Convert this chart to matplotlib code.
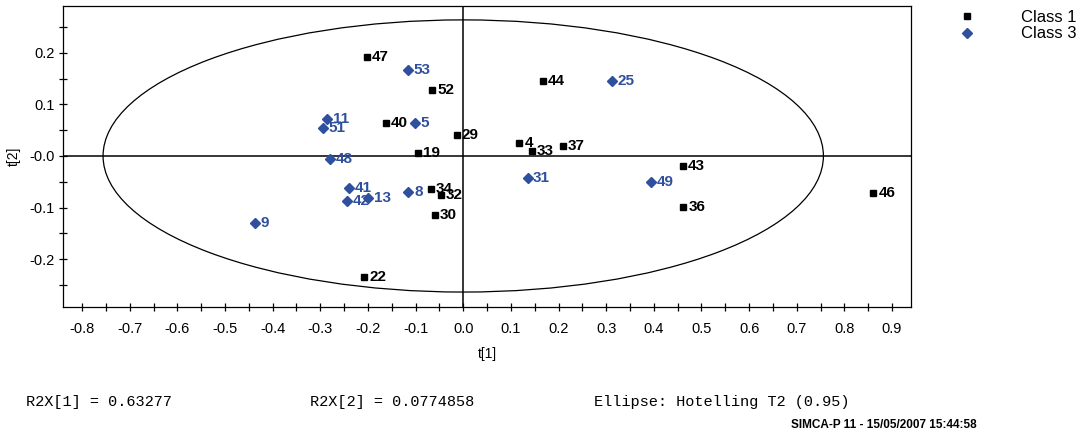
import matplotlib
matplotlib.use("Agg")
import matplotlib.pyplot as plt
import numpy as np
from matplotlib.patches import Ellipse
from matplotlib.ticker import MultipleLocator, FuncFormatter

# Score values per class (t[1], t[2]) with observation ids
class1_ids = ["47", "52", "40", "29", "19", "44", "4", "33", "37", "43", "36", "46", "34", "32", "30", "22"]
class1_t1 = [-0.202, -0.065, -0.162, -0.013, -0.094, 0.168, 0.118, 0.145, 0.210, 0.462, 0.462, 0.861, -0.067, -0.046, -0.059, -0.208]
class1_t2 = [0.192, 0.128, 0.064, 0.041, 0.006, 0.146, 0.025, 0.010, 0.020, -0.019, -0.099, -0.072, -0.064, -0.076, -0.115, -0.235]

class3_ids = ["53", "11", "51", "5", "48", "41", "42", "13", "8", "9", "25", "31", "49"]
class3_t1 = [-0.116, -0.286, -0.294, -0.101, -0.279, -0.239, -0.244, -0.199, -0.115, -0.437, 0.313, 0.135, 0.395]
class3_t2 = [0.167, 0.072, 0.054, 0.064, -0.006, -0.062, -0.087, -0.082, -0.070, -0.130, 0.146, -0.043, -0.050]

# Hotelling T2 (0.95) ellipse semi-axes
ell_a = 0.756
ell_b = 0.264

r2x = ["R2X[1] = 0.63277", "R2X[2] = 0.0774858", "Ellipse: Hotelling T2 (0.95)"]
footer = "SIMCA-P 11 - 15/05/2007 15:44:58"

plt.rcParams["font.family"] = ["Liberation Sans", "DejaVu Sans"]

blue = "#2f4f9f"

fig = plt.figure(figsize=(10.89, 4.37), dpi=100)
ax = fig.add_axes([0.0579, 0.2975, 0.7787, 0.6888])

ax.add_patch(Ellipse((0, 0), 2 * ell_a, 2 * ell_b, fill=False, ec="black", lw=0.9))
ax.axhline(0, color="black", lw=1.1)
ax.axvline(0, color="black", lw=1.1)

h1, = ax.plot(class1_t1, class1_t2, "s", color="black", ms=5, ls="none", label="Class 1")
h3, = ax.plot(class3_t1, class3_t2, "D", color=blue, ms=5.5, ls="none", label="Class 3")

for lab, x, y in zip(class1_ids, class1_t1, class1_t2):
    ax.annotate(lab, (x, y), xytext=(3.5, 0), textcoords="offset points",
                va="center", ha="left", fontsize=11, fontweight="bold", color="black")
for lab, x, y in zip(class3_ids, class3_t1, class3_t2):
    ax.annotate(lab, (x, y), xytext=(4, 0), textcoords="offset points",
                va="center", ha="left", fontsize=11, fontweight="bold", color=blue)

ax.set_xlim(-0.84, 0.94)
ax.set_ylim(-0.293, 0.291)

ax.xaxis.set_major_locator(MultipleLocator(0.1))
ax.xaxis.set_minor_locator(MultipleLocator(0.05))
ax.yaxis.set_major_locator(MultipleLocator(0.1))
ax.yaxis.set_minor_locator(MultipleLocator(0.05))
ax.xaxis.set_major_formatter(FuncFormatter(lambda v, p: "%.1f" % (0.0 if abs(v) < 1e-9 else v)))
ax.yaxis.set_major_formatter(FuncFormatter(lambda v, p: "-0.0" if abs(v) < 1e-9 else "%.1f" % v))
ax.tick_params(which="both", direction="inout", length=6, width=0.9, labelsize=10.5)
ax.tick_params(axis="x", pad=8)
ax.tick_params(axis="y", pad=3)
for s in ax.spines.values():
    s.set_linewidth(0.9)

ax.set_xlabel("t[1]", fontsize=10, labelpad=8)
ax.set_ylabel("t[2]", fontsize=10, labelpad=6)

fig.legend(handles=[h1, h3], loc="upper left", bbox_to_anchor=(0.867, 1.012),
           frameon=False, fontsize=12, handlelength=1.0, handletextpad=2.7,
           labelspacing=0.1)

xs = [26, 310, 594]
for txt, x in zip(r2x, xs):
    fig.text(x / 1089, 1 - 402 / 437, txt, family="Liberation Mono", fontsize=11,
             va="center", ha="left")
fig.text(791 / 1089, 1 - 425 / 437, footer, fontsize=8.5, fontweight="bold",
         va="center", ha="left")

fig.savefig("out.png", dpi=100)
